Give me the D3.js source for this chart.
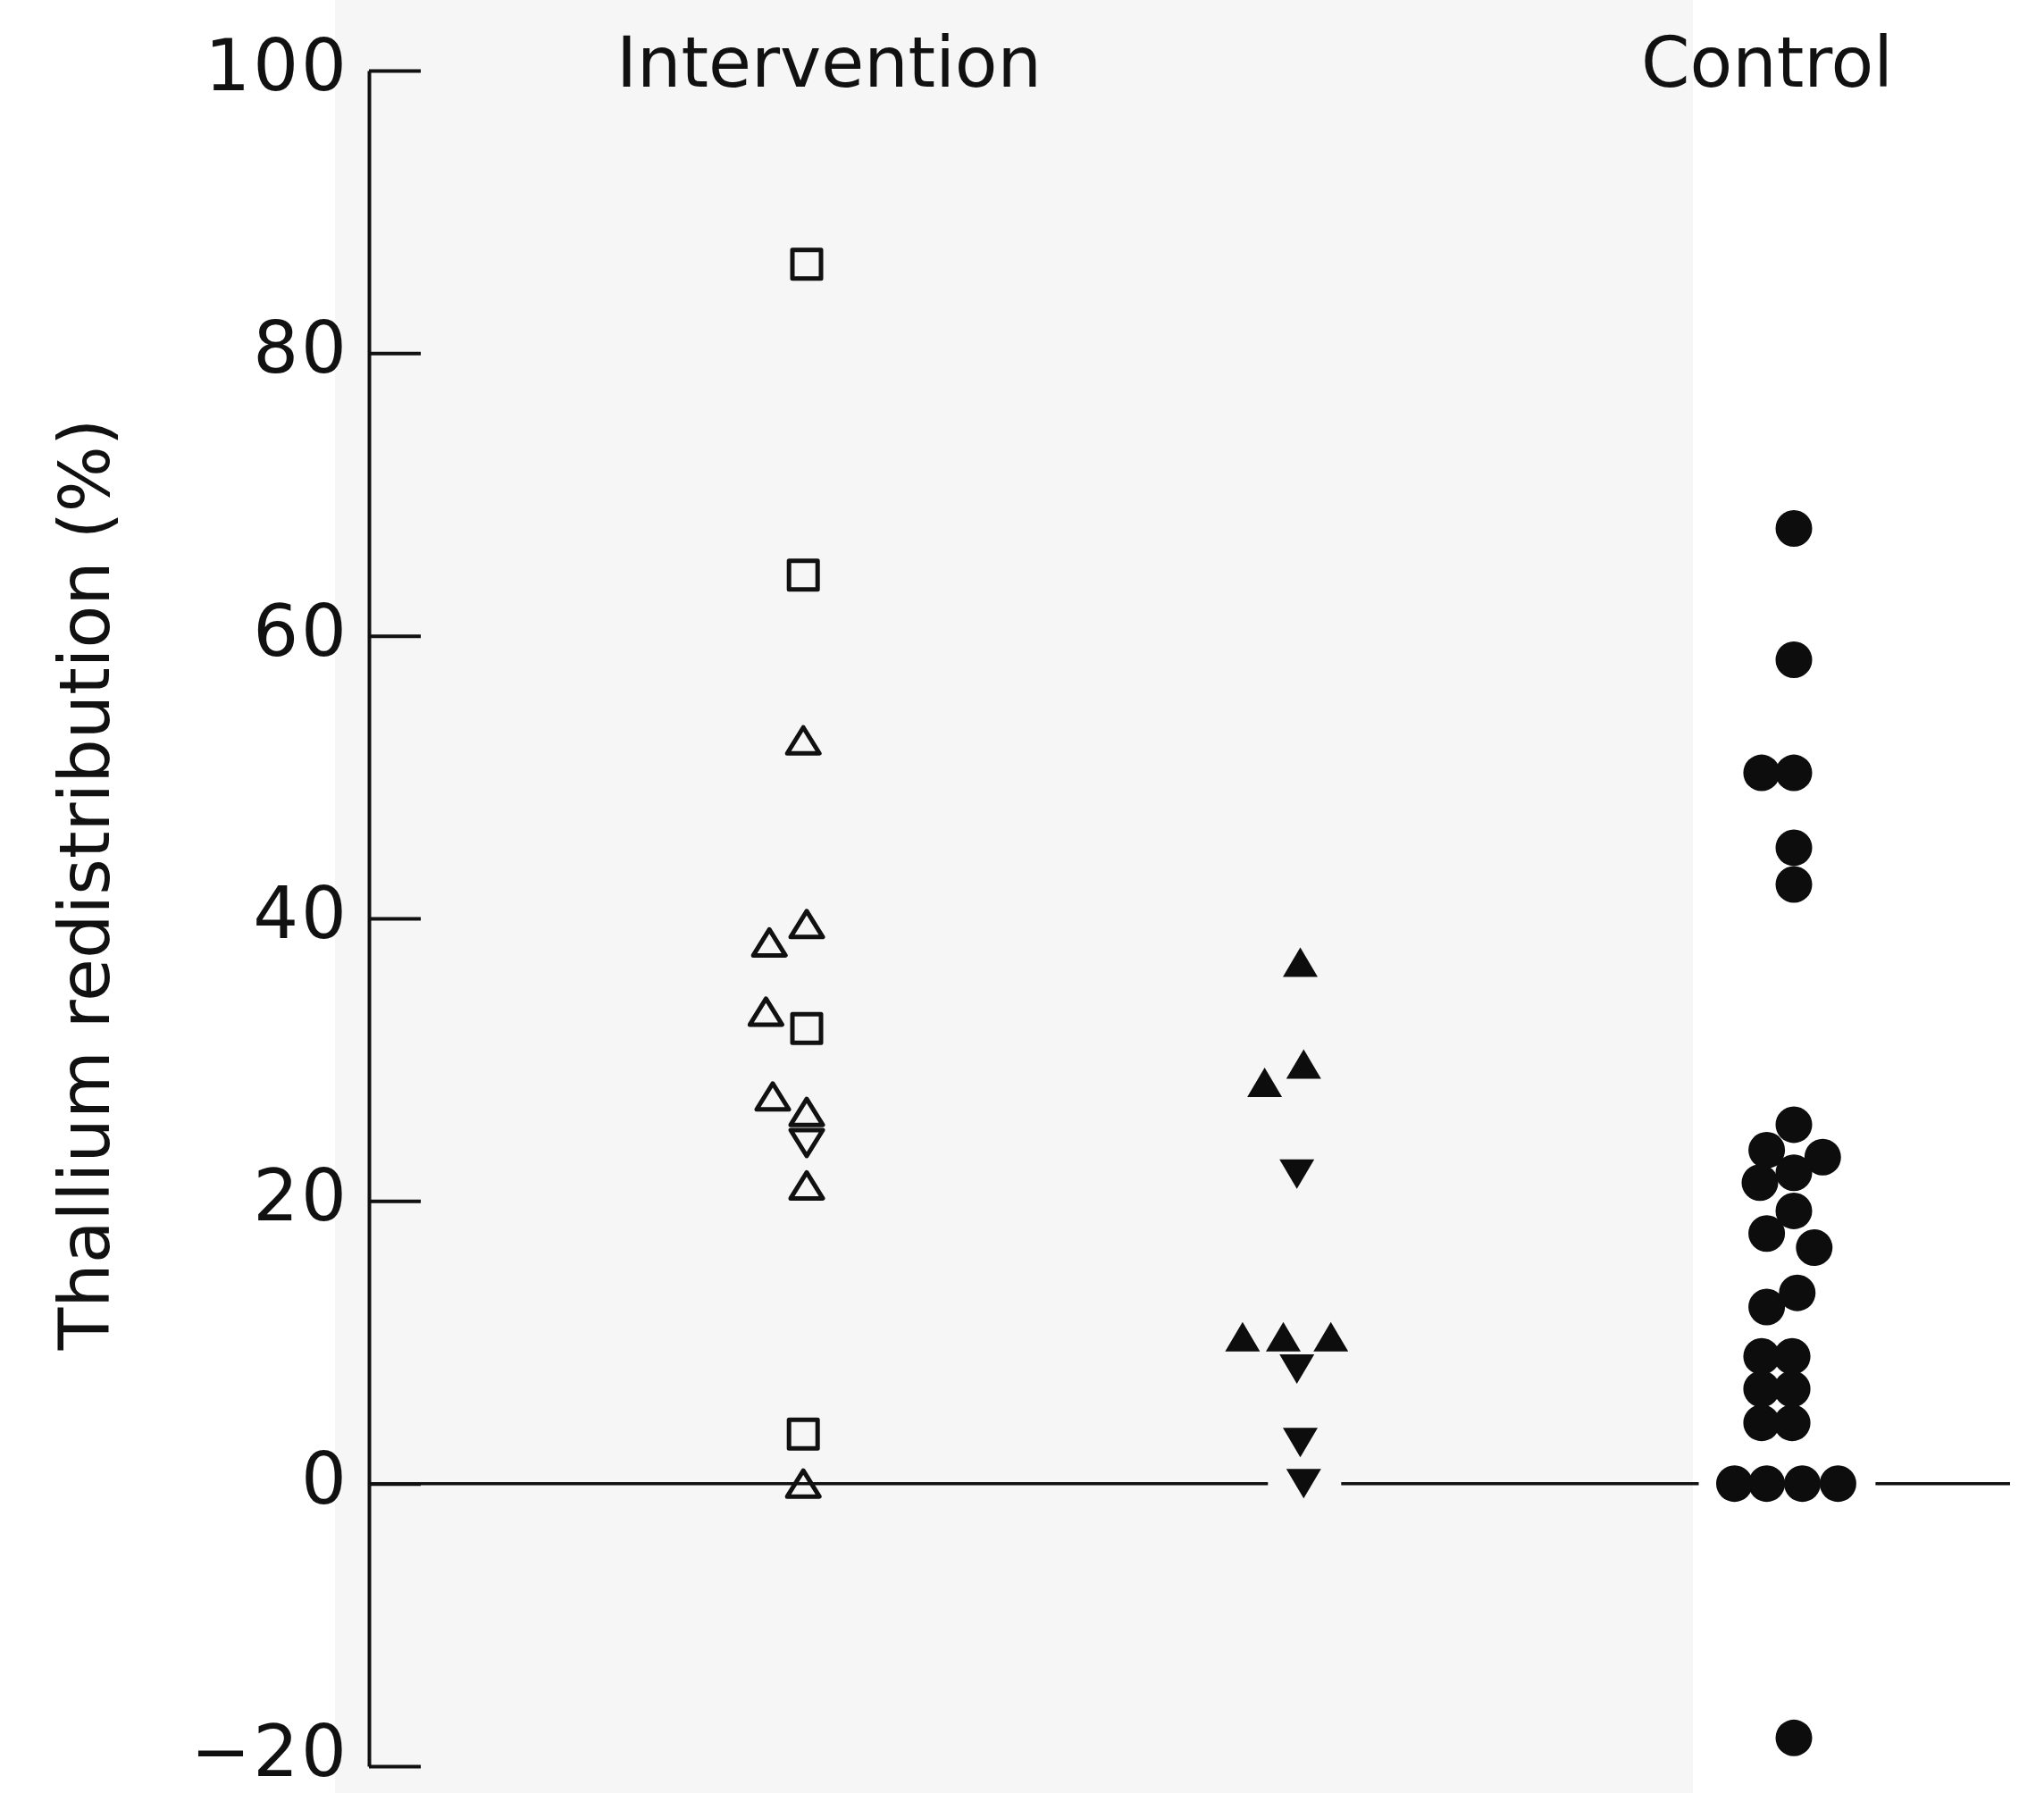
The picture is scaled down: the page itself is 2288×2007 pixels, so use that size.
<!DOCTYPE html>
<html lang="en">
<head>
<meta charset="UTF-8" />
<title>Thallium redistribution</title>
<script src="https://d3js.org/d3.v7.min.js"></script>
<style>
  body { margin: 0; background: #fff; }
  svg { display: block; }
</style>
</head>
<body>
<script>
var w = 2288;
var h = 2007;
var font = "'DejaVu Sans', sans-serif";

// columns on the x axis (the middle one has no heading)
var groups = ["Intervention", "Treated", "Control"];
var headings = ["Intervention", "", "Control"];
var yTicks = [-20, 0, 20, 40, 60, 80, 100];
var yTitle = "Thallium redistribution (%)";

// offsets are in marker widths, to the side of the column centre
// Intervention, open squares
var openSquareVals = [86.3, 64.3, 32.2, 3.5];
var openSquareOff = [0, -0.1, 0, -0.1];
// Intervention, open triangles up
var openUpVals = [52.6, 39.6, 38.3, 33.4, 27.4, 26.3, 21.1, 0];
var openUpOff = [-0.1, 0, -1.1, -1.2, -1.0, 0, 0, -0.1];
// Intervention, open triangle down
var openDownVals = [24.1];
var openDownOff = [0];

// middle column, filled triangles up
var fillUpVals = [36.9, 29.7, 28.4, 10.4, 10.4, 10.4];
var fillUpOff = [0, 0.1, -1.05, -1.7, -0.5, 0.9];
// middle column, filled triangles down
var fillDownVals = [21.9, 8.1, 2.9, 0];
var fillDownOff = [-0.1, -0.1, 0, 0.1];

// Control, filled circles
var circleVals = [67.6, 58.3, 50.3, 50.3, 45.0, 42.4,
                  25.4, 23.6, 23.1, 22.0, 21.3, 19.3, 17.7, 16.7, 13.5, 12.5,
                  9.0, 9.0, 6.7, 6.7, 4.3, 4.3,
                  0, 0, 0, 0, -18.0];
var circleOff = [0, 0, -0.95, 0, 0, 0,
                 0, -0.8, 0.85, 0, -1.0, 0, -0.8, 0.6, 0.1, -0.8,
                 -0.95, -0.05, -0.95, -0.05, -0.95, -0.05,
                 -1.75, -0.8, 0.25, 1.3, 0];

var slot = 38; // one marker width in px

var svg = d3.select("body")
    .append("svg")
    .attr("width", w)
    .attr("height", h);

svg.append("rect")
    .attr("width", w)
    .attr("height", h)
    .attr("fill", "#ffffff");

// faint grey of the scanned page on the left
svg.append("rect")
    .attr("x", 375)
    .attr("width", 1520)
    .attr("height", h)
    .attr("fill", "#f6f6f6");

// Scales
var xScale = d3.scalePoint()
    .domain(groups)
    .range([903, 2008]);

var yScale = d3.scaleLinear()
    .domain([-20, 100])
    .range([1977, 79]);

var axisX = 413;

// Marker shapes (box-centred triangles)
function triangle(wd, ht, up) {
    return {
        draw: function(ctx) {
            var s = up ? 1 : -1;
            ctx.moveTo(0, -s * ht / 2);
            ctx.lineTo(wd / 2, s * ht / 2);
            ctx.lineTo(-wd / 2, s * ht / 2);
            ctx.closePath();
        }
    };
}

var series = [
    { group: "Intervention", vals: openSquareVals, off: openSquareOff, type: d3.symbolSquare, size: 32 * 32, open: true },
    { group: "Intervention", vals: openUpVals, off: openUpOff, type: triangle(36, 29, true), size: 1, open: true },
    { group: "Intervention", vals: openDownVals, off: openDownOff, type: triangle(36, 29, false), size: 1, open: true },
    { group: "Treated", vals: fillUpVals, off: fillUpOff, type: triangle(39, 33, true), size: 1, open: false },
    { group: "Treated", vals: fillDownVals, off: fillDownOff, type: triangle(39, 33, false), size: 1, open: false },
    { group: "Control", vals: circleVals, off: circleOff, type: d3.symbolCircle, size: Math.PI * 20.5 * 20.5, open: false }
];

// flatten into points
var points = [];
series.forEach(function(s) {
    s.vals.forEach(function(v, i) {
        points.push({
            x: xScale(s.group) + s.off[i] * slot,
            v: v,
            type: s.type,
            size: s.size,
            open: s.open
        });
    });
});

// zero line, broken round the filled markers that sit on it
var gaps = [];
d3.groups(points.filter(function(p) { return p.v === 0 && !p.open; }),
          function(p) { return Math.round(p.x / 300); })
    .forEach(function(g) {
        var ext = d3.extent(g[1], function(p) { return p.x; });
        gaps.push([ext[0] - 40, ext[1] + 42]);
    });
gaps.sort(function(a, b) { return a[0] - b[0]; });

var segs = [];
var start = axisX;
gaps.forEach(function(g) {
    segs.push([start, g[0]]);
    start = g[1];
});
segs.push([start, 2250]);

svg.selectAll("line.zero")
    .data(segs)
    .enter()
    .append("line")
    .attr("class", "zero")
    .attr("x1", function(d) { return d[0]; })
    .attr("x2", function(d) { return d[1]; })
    .attr("y1", yScale(0))
    .attr("y2", yScale(0))
    .attr("stroke", "#111")
    .attr("stroke-width", 3.5);

// Y axis: ticks point inward, labels on the left
var yAxis = d3.axisLeft(yScale)
    .tickValues(yTicks)
    .tickSizeInner(-58)
    .tickSizeOuter(0)
    .tickPadding(22);

var gy = svg.append("g")
    .attr("transform", "translate(" + axisX + ",0)")
    .call(yAxis);

gy.select(".domain")
    .attr("stroke", "#111")
    .attr("stroke-width", 4);
gy.selectAll(".tick line")
    .attr("stroke", "#111")
    .attr("stroke-width", 4);
gy.selectAll(".tick text")
    .attr("fill", "#111")
    .attr("dy", function(d) { return d === -20 ? "0.13em" : "0.27em"; })
    .style("font-family", font)
    .style("font-size", "80px")
    .style("letter-spacing", "3px");

// markers
svg.selectAll("path.mark")
    .data(points)
    .enter()
    .append("path")
    .attr("class", "mark")
    .attr("transform", function(d) {
        return "translate(" + d.x + "," + yScale(d.v) + ")";
    })
    .attr("d", function(d) {
        return d3.symbol().type(d.type).size(d.size)();
    })
    .attr("fill", function(d) { return d.open ? "none" : "#0d0d0d"; })
    .attr("stroke", function(d) { return d.open ? "#111" : "none"; })
    .attr("stroke-width", 5)
    .attr("stroke-linejoin", "round");

// column headings
var headShift = { "Intervention": 25, "Treated": 0, "Control": -30 };
svg.selectAll("text.head")
    .data(groups)
    .enter()
    .append("text")
    .attr("class", "head")
    .attr("x", function(d) { return xScale(d) + headShift[d]; })
    .attr("y", 97)
    .attr("text-anchor", "middle")
    .attr("fill", "#111")
    .style("font-family", font)
    .style("font-size", "78px")
    .text(function(d, i) { return headings[i]; });

// y axis title
svg.append("text")
    .attr("transform", "translate(122,990) rotate(-90)")
    .attr("text-anchor", "middle")
    .attr("fill", "#111")
    .style("font-family", font)
    .style("font-size", "78px")
    .text(yTitle);
</script>
</body>
</html>
